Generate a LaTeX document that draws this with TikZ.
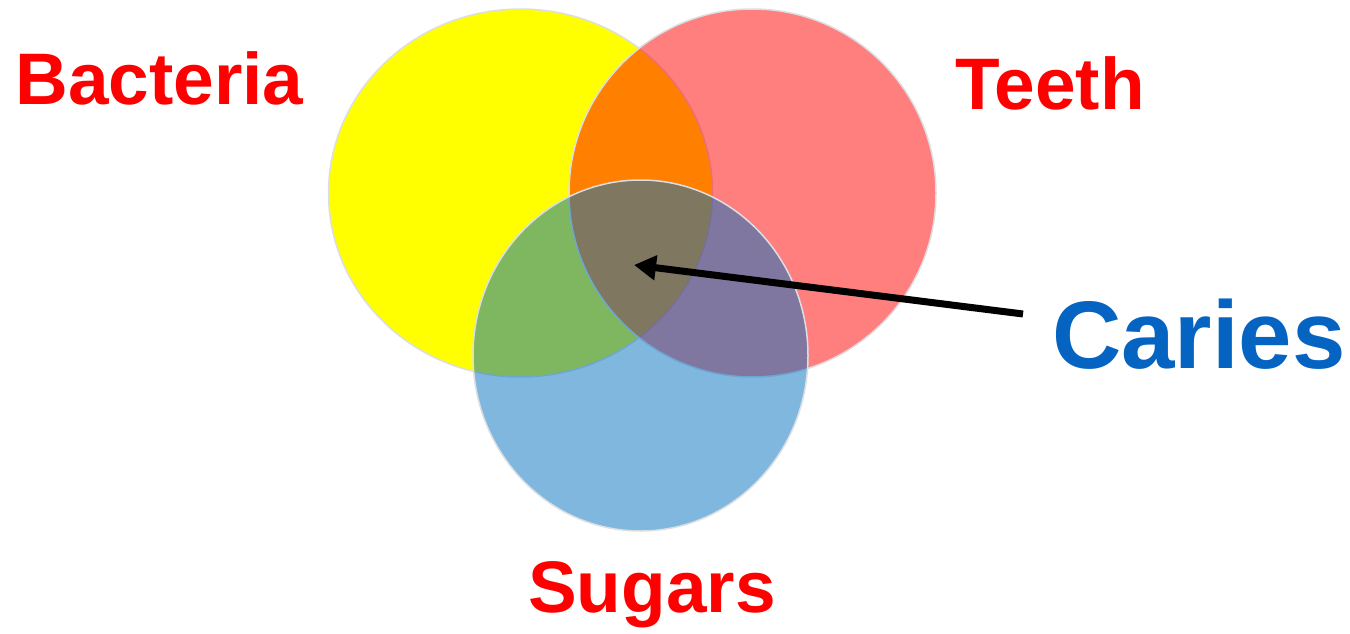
\documentclass[tikz,border=0pt]{standalone}
\usepackage{fontspec}
\setmainfont{Liberation Sans}
\usetikzlibrary{arrows.meta}
\definecolor{cyel}{RGB}{255,255,0}
\definecolor{cred}{RGB}{255,0,0}
\definecolor{cblue}{RGB}{0,112,192}
\definecolor{cedge}{RGB}{220,222,226}
\definecolor{labred}{RGB}{255,0,0}
\definecolor{labblue}{RGB}{5,99,193}
\tikzset{
  setshape/.style={draw=cedge, line width=1.5pt},
  lbl/.style={inner sep=0pt, anchor=base, font=\fontsize{73}{73}\selectfont\bfseries, text=labred},
  biglbl/.style={inner sep=0pt, anchor=base, font=\fontsize{96}{96}\selectfont\bfseries, text=labblue},
  pointer/.style={line width=7pt, draw=black, -{Triangle[length=22pt,width=24pt]}}
}
\begin{document}
\begin{tikzpicture}[x=1pt,y=-1pt]
\useasboundingbox (0,0) rectangle (1350,634);
% sets
\path[setshape, fill=cyel] (520.5,193) ellipse [x radius=192pt, y radius=184pt];
\path[setshape, fill=cred, fill opacity=0.5] (752.5,193) ellipse [x radius=183.5pt, y radius=184pt];
\path[setshape, fill=cblue, fill opacity=0.5] (640.5,355.5) ellipse [x radius=167.5pt, y radius=175.5pt];
% labels
\node[lbl] (bacteria) at (159.5,104.5) {Bacteria};
\node[lbl] (teeth) at (1050,110) {Teeth};
\node[lbl] (sugars) at (652,612.5) {Sugars};
\node[biglbl] (caries) at (1199,368.5) {Caries};
% arrow
\coordinate (tail) at (1023,314);
\coordinate (tip) at (634,265);
\draw[pointer] (tail) -- (tip);
\end{tikzpicture}
\end{document}
